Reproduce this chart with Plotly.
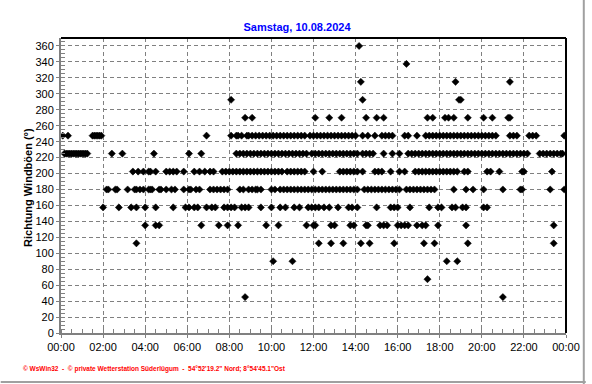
import plotly.graph_objects as go

DAY = "2024-08-10"
TITLE = "Samstag, 10.08.2024"
Y_LABEL = "Richtung Windböen (°)"
FOOTER = "© WsWin32  -  © private Wetterstation Süderlügum  -  54°52'19.2\" Nord; 8°54'45.1\"Ost"
X_TICK_LABELS = ["00:00", "02:00", "04:00", "06:00", "08:00", "10:00", "12:00",
                 "14:00", "16:00", "18:00", "20:00", "22:00", "00:00"]

# Wind gust direction (degrees) -> times (HH:MM)
dir_360 = ["14:10"]
dir_337 = ["16:25"]
dir_315 = ["14:15", "18:45", "21:20"]
dir_292 = ["08:05", "14:20", "18:55", "19:00"]
dir_270 = ["08:45", "09:05", "12:05", "12:45", "13:20", "14:30", "15:00", "15:20",
           "17:25", "17:40", "18:15", "18:25", "18:40", "19:20", "20:05", "20:30",
           "21:15", "21:20"]
dir_247 = ["00:05", "00:20",
           "01:30", "01:35", "01:40", "01:45", "01:50", "01:55",
           "06:55",
           "08:05", "08:20", "08:25", "08:35", "08:50", "08:55", "09:05", "09:15", "09:25",
           "09:35", "09:45", "09:55", "10:05", "10:15", "10:25", "10:35", "10:45", "10:55",
           "11:05", "11:15", "11:25", "11:35", "11:50", "12:00", "12:10", "12:20", "12:30",
           "12:40", "12:50", "13:00", "13:10", "13:20", "13:30", "13:40", "13:50", "14:00",
           "14:20", "14:35", "14:55",
           "15:15", "15:25", "15:35", "15:45",
           "16:20", "16:30", "16:55",
           "17:20", "17:30", "17:40", "17:50", "18:00", "18:10", "18:20", "18:30", "18:40", "18:50",
           "19:00", "19:10", "19:20", "19:30", "19:40", "19:50", "20:00", "20:10", "20:20",
           "20:30", "20:40",
           "21:20", "21:30", "21:40",
           "22:15", "22:25", "22:35",
           "23:55"]
dir_225 = ["00:10", "00:15", "00:20", "00:25", "00:30", "00:35", "00:40", "00:45", "00:50",
           "00:55", "01:00", "01:05", "01:10", "01:15",
           "02:25", "02:55", "04:25", "06:05", "06:40",
           "08:20", "08:30", "08:40", "08:50", "09:00", "09:10", "09:20",
           "09:30", "09:40", "09:50", "10:00", "10:10", "10:20", "10:30", "10:40", "10:50",
           "11:00", "11:10", "11:20", "11:30", "11:40",
           "11:55", "12:05", "12:15", "12:25", "12:35", "12:45", "12:55", "13:05", "13:15",
           "13:25", "13:35", "13:45", "13:55", "14:05",
           "14:20", "14:30", "14:40", "14:50",
           "15:20", "15:45", "16:05",
           "16:30", "16:40", "16:50", "17:00", "17:10", "17:20", "17:30", "17:40", "17:50",
           "18:00", "18:10", "18:20", "18:30", "18:40", "18:50", "19:00",
           "19:10", "19:20", "19:30", "19:40", "19:50", "20:00", "20:10", "20:20", "20:30",
           "20:40", "20:50", "21:00", "21:10", "21:20", "21:30", "21:40", "21:50", "22:00", "22:10",
           "22:45", "22:55", "23:05", "23:15", "23:25", "23:35", "23:45", "23:50"]
dir_202 = ["03:25", "03:40", "03:55", "04:10", "04:15", "04:30",
           "05:00", "05:10", "05:20", "05:30", "05:50",
           "06:20", "06:35", "06:50", "07:05", "07:15",
           "07:40", "07:50", "08:00", "08:10", "08:20", "08:30", "08:40", "08:50", "09:00",
           "09:10", "09:20",
           "09:30", "09:40", "09:50", "10:00", "10:10", "10:20", "10:30", "10:45", "10:55",
           "11:05", "11:15", "11:25", "11:35",
           "12:00", "12:25",
           "13:15", "13:25", "13:35", "13:45", "13:55", "14:05",
           "14:20", "14:55", "15:05", "15:15", "15:40", "16:05", "16:20",
           "16:50", "17:00", "17:10", "17:20", "17:30", "17:40", "17:50", "18:00", "18:10",
           "18:20", "18:30", "18:40", "18:50",
           "19:10", "19:20", "20:15", "20:25", "20:50", "21:55", "22:00", "23:20"]
dir_180 = ["02:10", "02:15", "02:35", "02:40",
           "03:10", "03:30", "03:35", "03:45", "03:55", "04:10", "04:15", "04:20", "04:40",
           "04:45", "05:00", "05:15", "05:25",
           "05:50", "06:05", "06:10", "06:25", "06:35",
           "07:05", "07:15", "07:25", "07:35", "07:45", "07:55",
           "08:30", "08:40", "08:55", "09:05", "09:15", "09:20",
           "09:30",
           "10:00", "10:10", "10:25", "10:35", "10:45", "10:55", "11:05", "11:15", "11:25",
           "11:35", "11:45", "11:55", "12:05", "12:15", "12:25", "12:35", "12:45", "12:55",
           "13:05", "13:15", "13:25", "13:35", "13:45", "13:55", "14:05",
           "14:25", "14:35", "14:45", "14:55", "15:05", "15:15", "15:25", "15:35", "15:45",
           "15:55", "16:05",
           "16:25", "16:35", "16:45", "16:55", "17:05", "17:15", "17:25", "17:35", "17:45",
           "18:40",
           "19:15", "19:35", "20:05", "21:00", "21:50", "21:55", "23:15", "23:55"]
dir_157 = ["02:00", "02:45", "03:20", "03:35", "04:00", "04:30",
           "05:20", "05:55", "06:05", "06:20", "06:30", "06:55", "07:10", "07:20", "07:45",
           "07:55", "08:05", "08:15", "08:35", "08:45", "08:55", "09:30",
           "10:00", "10:25", "10:40", "11:05", "11:20", "11:45", "11:55", "12:05", "12:15",
           "12:30", "12:45", "13:10", "13:40", "13:50", "14:05",
           "15:00", "15:40", "15:50", "16:00", "16:35", "17:30", "17:55", "18:05", "18:35",
           "18:45",
           "19:05", "19:15", "20:05", "20:15"]
dir_135 = ["04:00", "04:30", "04:40", "06:40", "07:30", "07:55", "08:25",
           "09:45", "10:20", "11:40", "12:00", "12:05", "12:50", "13:00", "13:45", "13:55",
           "14:30", "14:35", "15:10", "15:20", "15:30", "16:00", "16:10", "16:20", "16:30",
           "16:55", "17:10", "17:20", "17:55",
           "19:15", "23:25"]
dir_112 = ["03:35", "12:15", "12:50", "13:25", "14:15", "14:40", "15:50", "17:15", "17:45",
           "19:20", "23:25"]
dir_90 = ["10:05", "11:00", "18:20", "18:50"]
dir_67 = ["17:25"]
dir_45 = ["08:45", "21:00"]

SERIES = [
    (360.0, dir_360), (337.5, dir_337), (315.0, dir_315), (292.5, dir_292),
    (270.0, dir_270), (247.5, dir_247), (225.0, dir_225), (202.5, dir_202),
    (180.0, dir_180), (157.5, dir_157), (135.0, dir_135), (112.5, dir_112),
    (90.0, dir_90), (67.5, dir_67), (45.0, dir_45),
]

xs, ys = [], []
for level, times in SERIES:
    for t in times:
        xs.append(f"{DAY} {t}:00")
        ys.append(level)

GRID = "#808080"
AXIS = "#808080"
FONT = "Liberation Sans, Arial, sans-serif"

fig = go.Figure()
fig.add_trace(go.Scatter(
    x=xs, y=ys, mode="markers",
    marker=dict(symbol="diamond", size=5.5, color="black", line=dict(width=0.5, color="black")),
    hoverinfo="skip", showlegend=False,
))

tickvals = [f"{DAY} {h:02d}:00:00" for h in range(0, 24, 2)] + ["2024-08-11 00:00:00"]

fig.update_layout(
    width=592, height=384,
    margin=dict(l=61, r=20, t=38, b=51, pad=0),
    paper_bgcolor="white", plot_bgcolor="white",
    font=dict(family=FONT, size=11, color="black"),
    title=dict(text=f"<b>{TITLE}</b>", x=297/592, xref="container", xanchor="center",
               y=1 - 27/384, yref="container", yanchor="middle",
               font=dict(family=FONT, size=11, color="#0000FF")),
    xaxis=dict(
        type="date",
        range=[f"{DAY} 00:00:00", "2024-08-11 00:00:00"],
        tickmode="array", tickvals=tickvals, ticktext=X_TICK_LABELS,
        showgrid=True, gridcolor=GRID, gridwidth=1, griddash="4px,3px",
        showline=True, linecolor=AXIS, linewidth=2,
        ticks="outside", ticklen=3, tickcolor=AXIS,
        minor=dict(dtick=1800000, tick0=f"{DAY} 00:00:00", ticks="inside", ticklen=4,
                   tickcolor=AXIS, showgrid=False),
        zeroline=False, tickfont=dict(size=11),
    ),
    yaxis=dict(
        range=[0, 370], tick0=0, dtick=20,
        showgrid=True, gridcolor=GRID, gridwidth=1, griddash="4px,3px",
        showline=True, linecolor=AXIS, linewidth=2,
        ticks="outside", ticklen=3, tickcolor=AXIS,
        minor=dict(dtick=5, tick0=0, ticks="inside", ticklen=4, tickcolor=AXIS, showgrid=False),
        zeroline=False, tickfont=dict(size=11),
    ),
)

# plot frame (top and right in black)
fig.add_shape(type="line", xref="paper", yref="paper", x0=0, x1=1, y0=1, y1=1,
              line=dict(color="black", width=2))
fig.add_shape(type="line", xref="paper", yref="paper", x0=1, x1=1, y0=0, y1=1,
              line=dict(color="black", width=2))
# outer panel edge (right and bottom in grey)
fig.add_shape(type="line", xref="paper", yref="paper",
              x0=(590 - 61) / 511, x1=(590 - 61) / 511, y0=(333 - 384) / 295, y1=(333 - 0) / 295,
              line=dict(color="#a0a0a0", width=2))
fig.add_shape(type="line", xref="paper", yref="paper",
              x0=(0 - 61) / 511, x1=(592 - 61) / 511, y0=(333 - 382) / 295, y1=(333 - 382) / 295,
              line=dict(color="#a0a0a0", width=2))

fig.add_annotation(text=f"<b>{Y_LABEL}</b>", xref="paper", yref="paper",
                   x=(27.5 - 61) / 511, y=(333 - 187) / 295, textangle=-90,
                   showarrow=False, xanchor="center", yanchor="middle",
                   font=dict(family=FONT, size=11, color="black"))
fig.add_annotation(text=f"<b>{FOOTER}</b>", xref="paper", yref="paper",
                   x=(21 - 61) / 511, y=(333 - 369) / 295, xanchor="left", yanchor="middle",
                   showarrow=False, font=dict(family=FONT, size=6.5, color="#FF0000"))

fig.write_html("out.html")
